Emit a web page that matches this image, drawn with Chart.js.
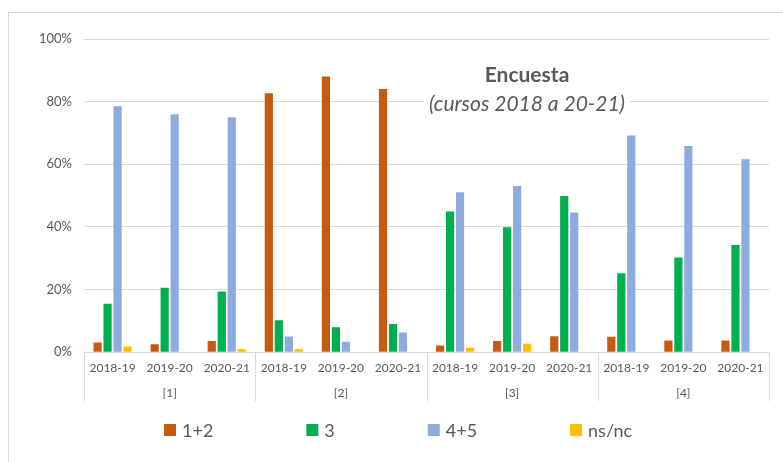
<!DOCTYPE html>
<html>
<head>
<meta charset="utf-8">
<script src="https://cdn.jsdelivr.net/npm/chart.js@4.4.1/dist/chart.umd.min.js"></script>
<style>
  html, body { margin: 0; padding: 0; background: #fff; }
  #wrap { position: relative; width: 783px; height: 462px; }
  #frame { position: absolute; left: 8px; top: 12px; width: 800px; height: 500px; border-left: 1px solid #D9D9D9; border-top: 1px solid #D9D9D9; pointer-events: none; }
</style>
</head>
<body>
<div id="wrap">
  <canvas id="grafico" width="783" height="462"></canvas>
  <div id="frame"></div>
</div>
<script>
// categorías: cursos dentro de cada grupo
const cursos = ['2018-19', '2019-20', '2020-21'];
const grupos = ['[1]', '[2]', '[3]', '[4]'];
const etiquetas = grupos.flatMap(() => cursos);

// porcentajes
const serie12 = [3.1, 2.5, 3.6, 82.7, 88.0, 84.0, 2.1, 3.6, 5.1, 4.9, 3.7, 3.7];
const serie3 = [15.5, 20.6, 19.4, 10.2, 8.0, 9.0, 44.9, 39.9, 49.9, 25.2, 30.2, 34.2];
const serie45 = [78.5, 76.0, 75.0, 5.0, 3.3, 6.3, 51.1, 53.1, 44.6, 69.2, 65.8, 61.6];
const serieNs = [1.8, 0, 1.0, 1.0, 0, 0, 1.4, 2.7, 0, 0, 0, 0];

const gris = '#595959';
const lineas = '#D9D9D9';

// título dentro del área de trazado, con fondo blanco
const titulo = {
    id: 'titulo',
    afterDraw(chart) {
        const c = chart.ctx;
        const x = 527;
        c.save();
        c.textAlign = 'center';
        c.textBaseline = 'middle';
        c.font = 'italic 21px Lato';
        const w = c.measureText('(cursos 2018 a 20-21)').width;
        c.fillStyle = '#fff';
        c.fillRect(x - w / 2 - 5, 90, w + 10, 28);
        c.fillStyle = gris;
        c.fillText('(cursos 2018 a 20-21)', x, 104);
        c.font = 'bold 21px Lato';
        c.fillText('Encuesta', x, 75);
        c.restore();
    }
};

// líneas verticales entre grupos del eje de categorías
const separadores = {
    id: 'separadores',
    afterDraw(chart) {
        const c = chart.ctx;
        const a = chart.chartArea;
        const fondo = chart.scales.x2.bottom;
        const paso = (a.right - a.left) / grupos.length;
        c.save();
        c.strokeStyle = lineas;
        c.lineWidth = 1;
        for (let i = 0; i <= grupos.length; i++) {
            const x = Math.round(a.left + i * paso) + 0.5;
            c.beginPath();
            c.moveTo(x, a.bottom);
            c.lineTo(x, fondo);
            c.stroke();
        }
        c.restore();
    }
};

// leyenda inferior
const leyenda = {
    id: 'leyenda',
    afterDraw(chart) {
        const c = chart.ctx;
        let x = 164;
        const y = 430;
        c.save();
        c.font = '18px Lato';
        c.textBaseline = 'middle';
        chart.data.datasets.forEach(ds => {
            c.fillStyle = ds.backgroundColor;
            c.fillRect(x, y - 6, 12, 12);
            c.fillStyle = gris;
            c.fillText(ds.label, x + 18, y + 1);
            x += 18 + c.measureText(ds.label).width + 93;
        });
        c.restore();
    }
};

new Chart(document.getElementById('grafico').getContext('2d'), {
    type: 'bar',
    data: {
        labels: etiquetas,
        datasets: [
            { label: '1+2', data: serie12, backgroundColor: '#C55A11' },
            { label: '3', data: serie3, backgroundColor: '#00B050' },
            { label: '4+5', data: serie45, backgroundColor: '#8FAADC' },
            { label: 'ns/nc', data: serieNs, backgroundColor: '#FFC000' },
        ],
    },
    options: {
        responsive: false,
        animation: false,
        layout: { padding: { left: 27, top: 39, right: 14, bottom: 61 } },
        datasets: {
            bar: { categoryPercentage: 0.7, barPercentage: 0.82 },
        },
        plugins: {
            legend: { display: false },
            tooltip: { enabled: false },
        },
        scales: {
            y: {
                min: 0,
                max: 100,
                ticks: {
                    stepSize: 20,
                    callback: v => v + '%',
                    color: gris,
                    font: { family: 'Lato', size: 13 },
                    padding: 12,
                },
                grid: { color: lineas, drawTicks: false },
                border: { display: false },
            },
            x: {
                ticks: {
                    color: gris,
                    font: { family: 'Lato', size: 12 },
                    maxRotation: 0,
                    autoSkip: false,
                    padding: 9,
                },
                grid: { display: false, drawTicks: false, tickLength: 0 },
                border: { display: false },
            },
            x2: {
                type: 'category',
                position: 'bottom',
                labels: grupos,
                ticks: {
                    color: gris,
                    font: { family: 'Lato', size: 12 },
                    padding: 1,
                },
                grid: { display: false, drawTicks: false, tickLength: 0 },
                border: { display: false },
            },
        },
    },
    plugins: [separadores, titulo, leyenda],
});
</script>
</body>
</html>
